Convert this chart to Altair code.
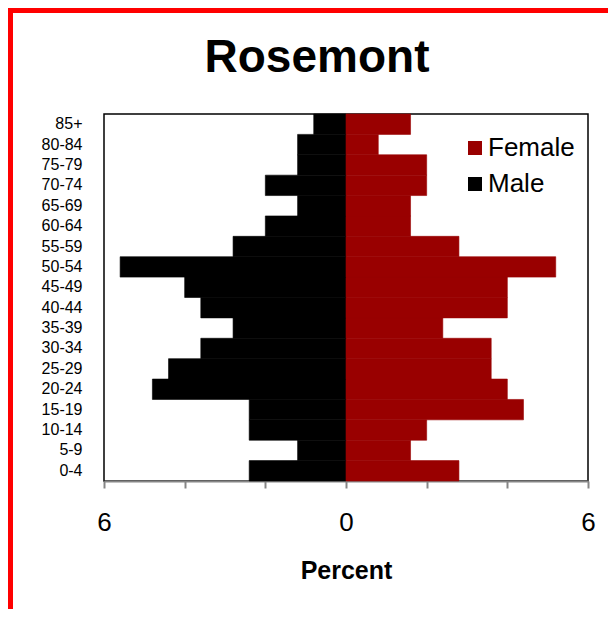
import altair as alt
import pandas as pd

title_text = "Rosemont"
ages = ["0-4", "5-9", "10-14", "15-19", "20-24", "25-29", "30-34", "35-39",
        "40-44", "45-49", "50-54", "55-59", "60-64", "65-69", "70-74",
        "75-79", "80-84", "85+"]
male = [2.4, 1.2, 2.4, 2.4, 4.8, 4.4, 3.6, 2.8, 3.6, 4.0, 5.6, 2.8, 2.0,
        1.2, 2.0, 1.2, 1.2, 0.8]
female = [2.8, 1.6, 2.0, 4.4, 4.0, 3.6, 3.6, 2.4, 4.0, 4.0, 5.2, 2.8, 1.6,
          1.6, 2.0, 2.0, 0.8, 1.6]
sexes = ["Female", "Male"]
colors = ["#990000", "#000000"]
x_ticks = [-6, -4, -2, 0, 2, 4, 6]

rows = []
for a, m, f in zip(ages, male, female):
    rows.append({"age": a, "sex": "Male", "value": -m})
    rows.append({"age": a, "sex": "Female", "value": f})
df = pd.DataFrame(rows)

FONT = "Liberation Sans"

bars = alt.Chart(df).mark_bar(strokeWidth=0.6).encode(
    x=alt.X("value:Q", stack=None,
            scale=alt.Scale(domain=[-6, 6], nice=False, zero=False),
            axis=alt.Axis(values=x_ticks,
                          labelExpr="abs(datum.value) % 6 == 0 ? format(abs(datum.value), 'd') : ''",
                          grid=False, domainColor="#868686", domainWidth=2,
                          tickColor="#868686", tickWidth=2, tickSize=7,
                          labelFontSize=26, labelFont=FONT, labelColor="#000",
                          labelPadding=21, labelFlush=False,
                          title="Percent", titleFont=FONT, titleFontSize=25,
                          titleFontWeight="bold", titleColor="#000",
                          titlePadding=23)),
    y=alt.Y("age:N", sort=list(reversed(ages)),
            scale=alt.Scale(paddingInner=0, paddingOuter=0),
            axis=alt.Axis(title=None, ticks=False, domain=False,
                          labelFontSize=16, labelFont=FONT, labelColor="#000",
                          labelPadding=22)),
    color=alt.Color("sex:N",
                    scale=alt.Scale(domain=sexes, range=colors),
                    legend=alt.Legend(title=None, orient="none",
                                      legendX=358, legendY=21,
                                      symbolType="square", symbolSize=196,
                                      symbolStrokeWidth=0, symbolOpacity=1,
                                      labelFontSize=26, labelFont=FONT,
                                      labelColor="#000", labelOffset=0,
                                      rowPadding=10, padding=0)),
    stroke=alt.Stroke("sex:N", scale=alt.Scale(domain=sexes, range=colors),
                      legend=None),
)

title = alt.Chart(alt.Data(values=[{"t": title_text}])).mark_text(
    font=FONT, fontSize=46, fontWeight="bold", color="#000",
    align="center", baseline="alphabetic"
).encode(text="t:N", x=alt.value(213), y=alt.value(-42))

border = alt.Chart(alt.Data(values=[{}])).mark_rect(
    fillOpacity=0, stroke="#FF0000", strokeWidth=5
).encode(
    x=alt.value(-93.5), x2=alt.value(560),
    y=alt.value(-103.5), y2=alt.value(560),
)

chart = alt.layer(bars, title, border).properties(
    width=484, height=367,
    autosize=alt.AutoSizeParams(type="none"),
    padding={"left": 96, "top": 106, "right": 20, "bottom": 128},
).configure_view(stroke="#000", strokeWidth=1.5)

chart.save("out.html", embed_options={"renderer": "svg", "actions": False})
